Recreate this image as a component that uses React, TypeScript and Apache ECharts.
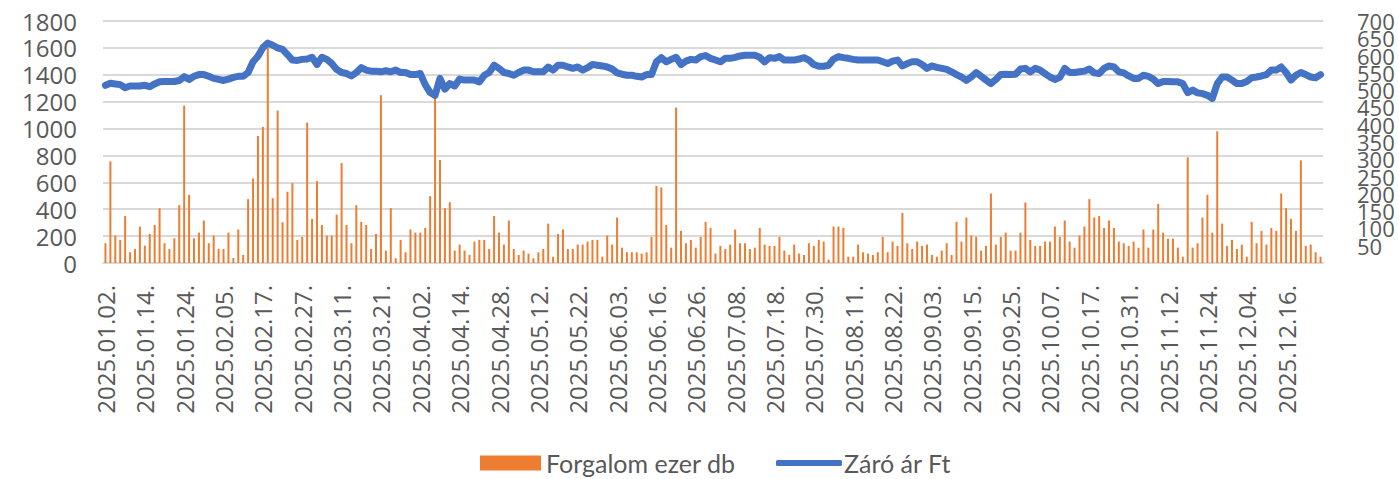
import React, { useEffect, useRef } from "react";
import * as echarts from "echarts";

// Trading days of 2025 per month (day numbers)
const jan = [2, 3, 6, 7, 8, 9, 10, 13, 14, 15, 16, 17, 20, 21, 22, 23, 24, 27, 28, 29, 30, 31];
const feb = [3, 4, 5, 6, 7, 10, 11, 12, 13, 14, 17, 18, 19, 20, 21, 24, 25, 26, 27, 28];
const mar = [3, 4, 5, 6, 7, 10, 11, 12, 13, 14, 17, 18, 19, 20, 21, 24, 25, 26, 27, 28, 31];
const apr = [1, 2, 3, 4, 7, 8, 9, 10, 11, 14, 15, 16, 17, 22, 23, 24, 25, 28, 29, 30];
const may = [5, 6, 7, 8, 9, 12, 13, 14, 15, 16, 19, 20, 21, 22, 23, 26, 27, 28, 29, 30];
const jun = [2, 3, 4, 5, 6, 10, 11, 12, 13, 16, 17, 18, 19, 20, 23, 24, 25, 26, 27, 30];
const jul = [1, 2, 3, 4, 7, 8, 9, 10, 11, 14, 15, 16, 17, 18, 21, 22, 23, 24, 25, 28, 29, 30, 31];
const aug = [1, 4, 5, 6, 7, 8, 11, 12, 13, 14, 15, 18, 19, 21, 22, 25, 26, 27, 28, 29];
const sep = [1, 2, 3, 4, 5, 8, 9, 10, 11, 12, 15, 16, 17, 18, 19, 22, 23, 24, 25, 26, 29, 30];
const oct = [1, 2, 3, 6, 7, 8, 9, 10, 13, 14, 15, 16, 17, 20, 21, 22, 27, 28, 29, 30, 31];
const nov = [3, 4, 5, 6, 7, 10, 11, 12, 13, 14, 17, 18, 19, 20, 21, 24, 25, 26, 27, 28];
const dec = [1, 2, 3, 4, 5, 8, 9, 10, 11, 12, 15, 16, 17, 18, 19, 22, 23, 29, 30];
const months = [jan, feb, mar, apr, may, jun, jul, aug, sep, oct, nov, dec];

const pad = (n: number) => (n < 10 ? "0" + n : "" + n);
const categories: string[] = [];
months.forEach((days, m) => days.forEach((d) => categories.push(`2025.${pad(m + 1)}.${pad(d)}.`)));

// Forgalom ezer db (turnover, thousand pcs)
const volume = [
  147, 756, 204, 172, 350, 80, 104, 271, 129, 216, 283, 408, 147, 104, 184, 430, 1171, 507, 184, 226,
  316, 147, 204, 104, 104, 226, 37, 249, 60, 475, 629, 945, 1012, 1598, 482, 1134, 303, 530, 594, 172,
  194, 1044, 328, 609, 283, 204, 204, 360, 743, 283, 147, 430, 306, 283, 104, 216, 1248, 92, 408, 35,
  172, 80, 249, 226, 226, 261, 497, 1223, 766, 408, 452, 92, 137, 92, 60, 159, 172, 172, 104, 350,
  226, 137, 316, 104, 60, 92, 70, 35, 80, 104, 293, 47, 216, 249, 104, 104, 137, 137, 159, 172,
  172, 47, 204, 137, 338, 114, 80, 80, 80, 70, 80, 194, 574, 562, 283, 114, 1156, 239, 147, 172,
  114, 194, 306, 261, 70, 127, 104, 137, 249, 147, 147, 104, 114, 261, 137, 127, 127, 194, 92, 60,
  137, 70, 60, 147, 127, 172, 159, 25, 271, 271, 261, 47, 47, 137, 80, 70, 60, 80, 194, 80,
  159, 127, 373, 147, 104, 159, 127, 137, 60, 47, 92, 147, 60, 306, 159, 338, 204, 194, 92, 127,
  517, 137, 194, 226, 92, 92, 226, 450, 172, 127, 127, 159, 159, 271, 194, 316, 159, 114, 204, 271,
  475, 338, 350, 261, 316, 261, 159, 147, 127, 159, 114, 249, 114, 249, 440, 226, 181, 181, 114, 47,
  786, 114, 147, 338, 507, 226, 980, 293, 127, 172, 104, 137, 47, 306, 147, 239, 137, 261, 239, 517,
  408, 328, 239, 763, 127, 137, 80, 47,
];

// Záró ár Ft (closing price)
const price = [
  514, 520, 518, 516, 507, 512, 512, 512, 514, 510, 518, 524, 525, 525, 525, 528, 539, 531, 540, 545,
  545, 540, 534, 531, 528, 532, 537, 540, 540, 551, 582, 598, 623, 636, 630, 622, 618, 603, 587, 586,
  589, 590, 595, 574, 595, 589, 577, 560, 551, 548, 541, 551, 565, 558, 555, 555, 553, 556, 553, 558,
  551, 551, 545, 545, 548, 516, 493, 485, 534, 503, 519, 512, 532, 529, 529, 529, 524, 543, 551, 572,
  563, 551, 548, 543, 551, 558, 558, 553, 553, 553, 567, 558, 572, 572, 567, 563, 567, 558, 565, 574,
  572, 570, 567, 561, 550, 546, 543, 543, 540, 538, 545, 545, 582, 594, 582, 589, 595, 574, 584, 589,
  587, 597, 600, 592, 587, 582, 592, 592, 595, 599, 601, 601, 601, 595, 582, 594, 592, 597, 587, 587,
  587, 590, 594, 587, 574, 569, 569, 572, 590, 597, 594, 592, 589, 587, 587, 587, 587, 587, 582, 577,
  584, 587, 570, 577, 582, 582, 574, 563, 570, 566, 563, 560, 553, 545, 538, 528, 538, 551, 540, 529,
  519, 531, 545, 546, 545, 546, 561, 563, 553, 563, 558, 548, 538, 531, 537, 563, 551, 551, 553, 555,
  561, 550, 548, 563, 570, 567, 553, 550, 541, 534, 534, 543, 540, 532, 519, 525, 525, 524, 524, 519,
  493, 500, 492, 490, 485, 476, 519, 538, 538, 529, 519, 519, 525, 536, 538, 541, 545, 558, 558, 567,
  551, 529, 543, 551, 545, 538, 536, 545,
];

const leftTicks = { min: 0, max: 1800, interval: 200 };
const rightTicks = { min: 0, max: 700, interval: 50 };

const labelColor = "#595959";
const gridColor = "#D9D9D9";
const barColor = "#ED7D31";
const lineColor = "#4472C4";

export default function App() {
  const ref = useRef<HTMLDivElement>(null);
  useEffect(() => {
    if (!ref.current) return;
    const chart = echarts.init(ref.current, undefined, { renderer: "svg" });
    const legendText = { fontFamily: "Lato", fontSize: 25, lineHeight: 26, color: labelColor };
    const rightLabel = {
      margin: 34,
      color: labelColor,
      fontFamily: "Open Sans",
      fontSize: 22,
      lineHeight: 17,
      hideOverlap: false,
    };
    const rightAxisBase = {
      type: "value",
      position: "right",
      ...rightTicks,
      axisLine: { show: false },
      axisTick: { show: false },
      splitLine: { show: false },
    };
    chart.setOption({
      animation: false,
      backgroundColor: "#ffffff",
      grid: { left: 103, right: 76, top: 21, bottom: 216, containLabel: false },
      legend: [
        {
          left: 475,
          top: 445,
          padding: 5,
          itemWidth: 61,
          itemHeight: 15,
          itemGap: 0,
          textStyle: { ...legendText, padding: [0, 0, 0, 0] },
          data: [{ name: "Forgalom ezer db", icon: "rect" }],
        },
        {
          left: 771,
          top: 445,
          padding: 5,
          itemWidth: 66,
          itemHeight: 6,
          itemGap: 0,
          textStyle: { ...legendText, padding: [0, 0, 0, -3] },
          data: [{ name: "Záró ár Ft", icon: "roundRect" }],
        },
      ],
      xAxis: {
        type: "category",
        data: categories,
        boundaryGap: true,
        axisLine: { show: true, lineStyle: { color: gridColor, width: 2 } },
        axisTick: { show: false },
        axisLabel: {
          interval: 7,
          rotate: 90,
          margin: 22,
          color: labelColor,
          fontFamily: "Open Sans",
          fontSize: 24,
        },
      },
      yAxis: [
        {
          type: "value",
          ...leftTicks,
          axisLine: { show: false },
          axisTick: { show: false },
          splitLine: { show: true, lineStyle: { color: gridColor, width: 2 } },
          axisLabel: {
            margin: 26,
            color: labelColor,
            fontFamily: "Open Sans",
            fontSize: 24,
            formatter: (v: number) => String(v),
          },
        },
        {
          ...rightAxisBase,
          axisLabel: {
            ...rightLabel,
            formatter: (v: number) => (v === 0 || v === rightTicks.max ? "" : String(v)),
          },
        },
        {
          ...rightAxisBase,
          axisLabel: {
            ...rightLabel,
            formatter: (v: number) => (v === rightTicks.max ? String(v) : ""),
          },
        },
      ],
      series: [
        {
          name: "Forgalom ezer db",
          type: "bar",
          data: volume,
          yAxisIndex: 0,
          barWidth: 2,
          itemStyle: { color: barColor },
        },
        {
          name: "Záró ár Ft",
          type: "line",
          data: price,
          yAxisIndex: 1,
          symbol: "none",
          smooth: false,
          lineStyle: { color: lineColor, width: 7, cap: "round", join: "round" },
          itemStyle: { color: lineColor },
        },
      ],
    });
    return () => chart.dispose();
  }, []);
  return (
    <div
      ref={ref}
      style={{ position: "fixed", left: 0, top: 0, width: 1399, height: 479, background: "#fff" }}
    />
  );
}
